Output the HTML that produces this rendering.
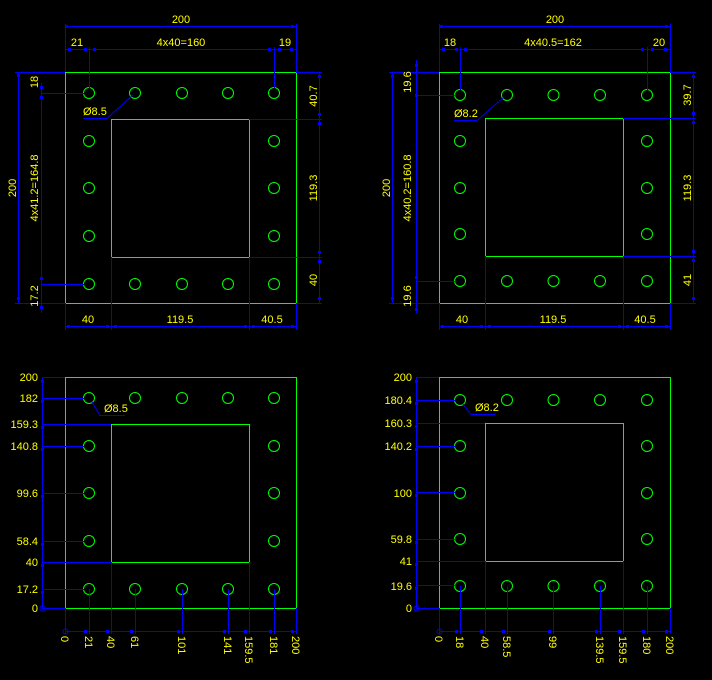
<!DOCTYPE html>
<html><head><meta charset="utf-8"><style>
html,body{margin:0;padding:0;background:#000;}
svg{display:block}
text{font-family:"Liberation Sans",sans-serif;font-size:11px;fill:#ffff00;}
.g{stroke:#00ff00;fill:none;stroke-width:1}
.b{stroke:#0000ff;fill:none;stroke-width:1}
.m{text-anchor:middle}
.e{text-anchor:end}
</style></head><body>
<svg width="712" height="680" viewBox="0 0 712 680" xmlns="http://www.w3.org/2000/svg">
<rect width="712" height="680" fill="#000"/>

<!-- ============ TOP LEFT ============ -->
<rect class="g" x="65.5" y="72.5" width="231" height="231"/>
<rect class="g" x="111.5" y="119.5" width="138" height="138"/>
<g class="g">
<circle cx="89" cy="93" r="5.5"/><circle cx="135" cy="93" r="5.5"/><circle cx="182" cy="93" r="5.5"/><circle cx="228" cy="93" r="5.5"/><circle cx="274" cy="93" r="5.5"/>
<circle cx="89" cy="141" r="5.5"/><circle cx="274" cy="141" r="5.5"/>
<circle cx="89" cy="188" r="5.5"/><circle cx="274" cy="188" r="5.5"/>
<circle cx="89" cy="236" r="5.5"/><circle cx="274" cy="236" r="5.5"/>
<circle cx="89" cy="284" r="5.5"/><circle cx="135" cy="284" r="5.5"/><circle cx="182" cy="284" r="5.5"/><circle cx="228" cy="284" r="5.5"/><circle cx="274" cy="284" r="5.5"/>
</g>
<g class="b">
<path d="M65.5 26.5H296.5M65.5 24V72M296.5 24V72"/>
<path d="M65.5 49.5H296.5M89.5 47V88M274.5 47V88"/>
<path d="M18.5 72V303M15 72.5H65M15 303.5H65"/>
<path d="M41.5 83V313M41 93.5H84M41 284.5H84"/>
<path d="M319.5 72V303M296 72.5H322M249 119.5H322M249 257.5H322M296 303.5H322"/>
<path d="M65.5 326.5H296.5M65.5 303V330M111.5 257V330M249.5 257V330M296.5 303V330"/>
<path d="M133 95L107 118.5H83"/>
</g>
<g fill="#0000ff">
<rect x="65" y="25" width="3" height="3"/><rect x="291" y="25" width="3" height="3"/>
<rect x="68" y="48" width="3" height="3"/><rect x="84" y="48" width="3" height="3"/><rect x="93" y="48" width="3" height="3"/><rect x="268" y="48" width="3" height="3"/><rect x="278" y="48" width="3" height="3"/><rect x="290" y="48" width="3" height="3"/>
<rect x="17" y="74" width="3" height="3"/><rect x="17" y="297" width="3" height="3"/>
<rect x="40" y="86" width="3" height="3"/><rect x="40" y="96" width="3" height="3"/><rect x="40" y="277" width="3" height="3"/><rect x="40" y="306" width="3" height="3"/>
<rect x="318" y="75" width="3" height="3"/><rect x="318" y="113" width="3" height="3"/><rect x="318" y="122" width="3" height="3"/><rect x="318" y="251" width="3" height="3"/><rect x="318" y="260" width="3" height="3"/><rect x="318" y="297" width="3" height="3"/>
<rect x="67" y="325" width="3" height="3"/><rect x="106" y="325" width="3" height="3"/><rect x="114" y="325" width="3" height="3"/><rect x="244" y="325" width="3" height="3"/><rect x="252" y="325" width="3" height="3"/><rect x="291" y="325" width="3" height="3"/>
</g>
<text class="m" x="181" y="23">200</text>
<text class="m" x="77" y="46">21</text>
<text class="m" x="181" y="46">4x40=160</text>
<text class="m" x="285" y="46">19</text>
<text class="m" transform="translate(16,188) rotate(-90)">200</text>
<text class="m" transform="translate(38,82) rotate(-90)">18</text>
<text class="m" transform="translate(38,188) rotate(-90)">4x41.2=164.8</text>
<text class="m" transform="translate(38,296) rotate(-90)">17.2</text>
<text class="m" transform="translate(317,96) rotate(-90)">40.7</text>
<text class="m" transform="translate(317,188) rotate(-90)">119.3</text>
<text class="m" transform="translate(317,280) rotate(-90)">40</text>
<text class="m" x="88" y="323">40</text>
<text class="m" x="180" y="323">119.5</text>
<text class="m" x="272" y="323">40.5</text>
<text x="83" y="115">Ø8.5</text>

<!-- ============ TOP RIGHT ============ -->
<rect class="g" x="439.5" y="72.5" width="231" height="231"/>
<rect class="g" x="485.5" y="118.5" width="138" height="138"/>
<g class="g">
<circle cx="460" cy="95" r="5.5"/><circle cx="507" cy="95" r="5.5"/><circle cx="553.5" cy="95" r="5.5"/><circle cx="600" cy="95" r="5.5"/><circle cx="647" cy="95" r="5.5"/>
<circle cx="460" cy="141" r="5.5"/><circle cx="647" cy="141" r="5.5"/>
<circle cx="460" cy="188" r="5.5"/><circle cx="647" cy="188" r="5.5"/>
<circle cx="460" cy="234" r="5.5"/><circle cx="647" cy="234" r="5.5"/>
<circle cx="460" cy="281" r="5.5"/><circle cx="507" cy="281" r="5.5"/><circle cx="553.5" cy="281" r="5.5"/><circle cx="600" cy="281" r="5.5"/><circle cx="647" cy="281" r="5.5"/>
</g>
<g class="b">
<path d="M439.5 26.5H670.5M439.5 24V72M670.5 24V72"/>
<path d="M439.5 49.5H670.5M460.5 47V90M647.5 47V90"/>
<path d="M392.5 72V303M389 72.5H439M389 303.5H439"/>
<path d="M416.5 60V313M416 95.5H455M416 281.5H455"/>
<path d="M693.5 72V303M670 72.5H696M623 118.5H696M623 256.5H696M670 303.5H696"/>
<path d="M439.5 326.5H670.5M439.5 303V330M485.5 256V330M623.5 256V330M670.5 303V330"/>
<path d="M504 97L477 120.5H454"/>
</g>
<g fill="#0000ff">
<rect x="440" y="25" width="3" height="3"/><rect x="665" y="25" width="3" height="3"/>
<rect x="442" y="48" width="3" height="3"/><rect x="455" y="48" width="3" height="3"/><rect x="464" y="48" width="3" height="3"/><rect x="641" y="48" width="3" height="3"/><rect x="651" y="48" width="3" height="3"/><rect x="664" y="48" width="3" height="3"/>
<rect x="391" y="75" width="3" height="3"/><rect x="391" y="297" width="3" height="3"/>
<rect x="415" y="64" width="3" height="3"/><rect x="415" y="94" width="3" height="3"/><rect x="415" y="276" width="3" height="3"/><rect x="415" y="308" width="3" height="3"/>
<rect x="692" y="75" width="3" height="3"/><rect x="692" y="112" width="3" height="3"/><rect x="692" y="121" width="3" height="3"/><rect x="692" y="250" width="3" height="3"/><rect x="692" y="259" width="3" height="3"/><rect x="692" y="297" width="3" height="3"/>
<rect x="441" y="325" width="3" height="3"/><rect x="480" y="325" width="3" height="3"/><rect x="488" y="325" width="3" height="3"/><rect x="618" y="325" width="3" height="3"/><rect x="626" y="325" width="3" height="3"/><rect x="665" y="325" width="3" height="3"/>
</g>
<text class="m" x="555" y="23">200</text>
<text class="m" x="450" y="46">18</text>
<text class="m" x="553" y="46">4x40.5=162</text>
<text class="m" x="659" y="46">20</text>
<text class="m" transform="translate(390,188) rotate(-90)">200</text>
<text class="m" transform="translate(411,82) rotate(-90)">19.6</text>
<text class="m" transform="translate(411,188) rotate(-90)">4x40.2=160.8</text>
<text class="m" transform="translate(411,296) rotate(-90)">19.6</text>
<text class="m" transform="translate(691,95) rotate(-90)">39.7</text>
<text class="m" transform="translate(691,188) rotate(-90)">119.3</text>
<text class="m" transform="translate(691,280) rotate(-90)">41</text>
<text class="m" x="462" y="323">40</text>
<text class="m" x="553" y="323">119.5</text>
<text class="m" x="645" y="323">40.5</text>
<text x="454" y="117">Ø8.2</text>

<!-- ============ BOTTOM LEFT ============ -->
<rect class="g" x="65.5" y="377.5" width="231" height="231"/>
<rect class="g" x="111.5" y="424.5" width="138" height="138"/>
<g class="g">
<circle cx="89" cy="398" r="5.5"/><circle cx="135" cy="398" r="5.5"/><circle cx="182" cy="398" r="5.5"/><circle cx="228" cy="398" r="5.5"/><circle cx="274" cy="398" r="5.5"/>
<circle cx="89" cy="446" r="5.5"/><circle cx="274" cy="446" r="5.5"/>
<circle cx="89" cy="493" r="5.5"/><circle cx="274" cy="493" r="5.5"/>
<circle cx="89" cy="541" r="5.5"/><circle cx="274" cy="541" r="5.5"/>
<circle cx="89" cy="589" r="5.5"/><circle cx="135" cy="589" r="5.5"/><circle cx="182" cy="589" r="5.5"/><circle cx="228" cy="589" r="5.5"/><circle cx="274" cy="589" r="5.5"/>
</g>
<g class="b">
<path d="M42.5 377V608"/>
<path d="M42 377.5H65M42 398.5H84M42 424.5H111M42 446.5H84M42 493.5H84M42 541.5H84M42 562.5H111M42 589.5H84M42 608.5H65"/>
<path d="M65.5 631.5H296.5M65.5 608V634M89.5 589V634M111.5 562V634M135.5 589V634M182.5 589V634M228.5 589V634M249.5 562V634M274.5 589V634M296.5 608V634"/>
<path d="M92 402L100 415.5H125"/>
</g>
<g fill="#0000ff">
<rect x="84" y="630" width="3" height="3"/><rect x="106" y="630" width="3" height="3"/><rect x="130" y="630" width="3" height="3"/><rect x="177" y="630" width="3" height="3"/><rect x="223" y="630" width="3" height="3"/><rect x="244" y="630" width="3" height="3"/><rect x="269" y="630" width="3" height="3"/><rect x="291" y="630" width="3" height="3"/>
<rect x="41" y="380" width="3" height="3"/><rect x="41" y="400" width="3" height="3"/><rect x="41" y="426" width="3" height="3"/><rect x="41" y="448" width="3" height="3"/><rect x="41" y="495" width="3" height="3"/><rect x="41" y="543" width="3" height="3"/><rect x="41" y="564" width="3" height="3"/><rect x="41" y="591" width="3" height="3"/>
</g>
<circle cx="42.5" cy="608.5" r="2.5" class="b"/><circle cx="65.5" cy="631.5" r="2.5" class="b"/>
<text class="e" x="38" y="381">200</text>
<text class="e" x="38" y="402">182</text>
<text class="e" x="38" y="428">159.3</text>
<text class="e" x="38" y="450">140.8</text>
<text class="e" x="38" y="497">99.6</text>
<text class="e" x="38" y="545">58.4</text>
<text class="e" x="38" y="566">40</text>
<text class="e" x="38" y="593">17.2</text>
<text class="e" x="38" y="612">0</text>
<text transform="translate(61,636) rotate(90)">0</text>
<text transform="translate(85,636) rotate(90)">21</text>
<text transform="translate(107,636) rotate(90)">40</text>
<text transform="translate(131,636) rotate(90)">61</text>
<text transform="translate(178,636) rotate(90)">101</text>
<text transform="translate(224,636) rotate(90)">141</text>
<text transform="translate(245,636) rotate(90)">159.5</text>
<text transform="translate(270,636) rotate(90)">181</text>
<text transform="translate(292,636) rotate(90)">200</text>
<text x="104" y="412">Ø8.5</text>

<!-- ============ BOTTOM RIGHT ============ -->
<rect class="g" x="439.5" y="377.5" width="231" height="231"/>
<rect class="g" x="485.5" y="423.5" width="138" height="138"/>
<g class="g">
<circle cx="460" cy="400" r="5.5"/><circle cx="507" cy="400" r="5.5"/><circle cx="553.5" cy="400" r="5.5"/><circle cx="600" cy="400" r="5.5"/><circle cx="647" cy="400" r="5.5"/>
<circle cx="460" cy="446" r="5.5"/><circle cx="647" cy="446" r="5.5"/>
<circle cx="460" cy="493" r="5.5"/><circle cx="647" cy="493" r="5.5"/>
<circle cx="460" cy="539" r="5.5"/><circle cx="647" cy="539" r="5.5"/>
<circle cx="460" cy="586" r="5.5"/><circle cx="507" cy="586" r="5.5"/><circle cx="553.5" cy="586" r="5.5"/><circle cx="600" cy="586" r="5.5"/><circle cx="647" cy="586" r="5.5"/>
</g>
<g class="b">
<path d="M416.5 377V608"/>
<path d="M416 377.5H439M416 400.5H455M416 423.5H485M416 446.5H455M416 492.5H455M416 539.5H455M416 561.5H485M416 585.5H455M416 608.5H439"/>
<path d="M439.5 631.5H670.5M439.5 608V634M460.5 586V634M485.5 561V634M507.5 586V634M553.5 586V634M600.5 586V634M623.5 561V634M647.5 586V634M670.5 608V634"/>
<path d="M463 404L471 414.5H495"/>
</g>
<g fill="#0000ff">
<rect x="455" y="630" width="3" height="3"/><rect x="480" y="630" width="3" height="3"/><rect x="502" y="630" width="3" height="3"/><rect x="548" y="630" width="3" height="3"/><rect x="595" y="630" width="3" height="3"/><rect x="618" y="630" width="3" height="3"/><rect x="642" y="630" width="3" height="3"/><rect x="665" y="630" width="3" height="3"/>
<rect x="415" y="380" width="3" height="3"/><rect x="415" y="402" width="3" height="3"/><rect x="415" y="425" width="3" height="3"/><rect x="415" y="448" width="3" height="3"/><rect x="415" y="494" width="3" height="3"/><rect x="415" y="541" width="3" height="3"/><rect x="415" y="563" width="3" height="3"/><rect x="415" y="587" width="3" height="3"/>
</g>
<circle cx="416.5" cy="608.5" r="2.5" class="b"/><circle cx="439.5" cy="631.5" r="2.5" class="b"/>
<text class="e" x="412" y="381">200</text>
<text class="e" x="412" y="404">180.4</text>
<text class="e" x="412" y="427">160.3</text>
<text class="e" x="412" y="450">140.2</text>
<text class="e" x="412" y="497">100</text>
<text class="e" x="412" y="543">59.8</text>
<text class="e" x="412" y="565">41</text>
<text class="e" x="412" y="590">19.6</text>
<text class="e" x="412" y="612">0</text>
<text transform="translate(435,636) rotate(90)">0</text>
<text transform="translate(456,636) rotate(90)">18</text>
<text transform="translate(481,636) rotate(90)">40</text>
<text transform="translate(503,636) rotate(90)">58.5</text>
<text transform="translate(549,636) rotate(90)">99</text>
<text transform="translate(596,636) rotate(90)">139.5</text>
<text transform="translate(619,636) rotate(90)">159.5</text>
<text transform="translate(643,636) rotate(90)">180</text>
<text transform="translate(666,636) rotate(90)">200</text>
<text x="475" y="411">Ø8.2</text>
</svg>
</body></html>
